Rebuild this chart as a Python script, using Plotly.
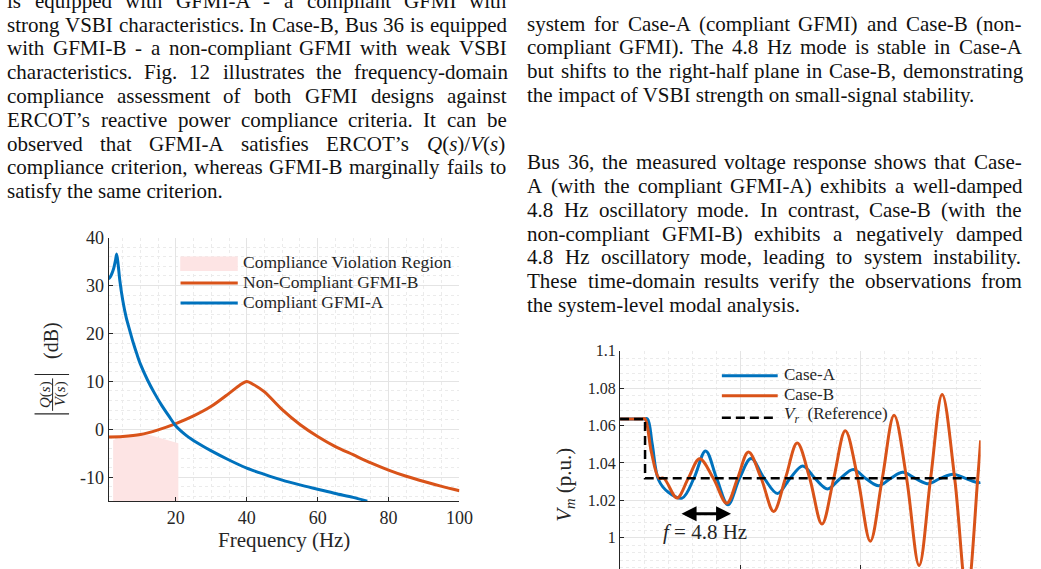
import re
import plotly.graph_objects as go

W, H = 1041, 569

# ---------------- left chart data (frequency domain) ----------------
freq_a = [1, 1.5, 2, 2.5, 3, 3.3, 3.7, 4.2, 5, 6, 7, 8, 9, 10, 12, 14, 16, 18, 20,
          23, 26, 30, 35, 40, 45, 50, 55, 60, 65, 70, 74]
mag_a = [31.4, 31.8, 32.6, 33.7, 35.4, 36.6, 34.5, 31.0, 27.0, 23.3, 20.6, 18.0, 15.7,
         13.6, 10.3, 7.5, 5.0, 2.8, 0.7, -1.3, -2.8, -4.5, -6.4, -8.1, -9.4, -10.6,
         -11.6, -12.5, -13.4, -14.2, -15.0]
freq_b = [1, 5, 10, 15, 20, 25, 30, 35, 38, 40, 42, 45, 50, 55, 60, 65, 70, 75, 80,
          85, 90, 95, 100]
mag_b = [-1.6, -1.5, -1.1, -0.1, 1.2, 2.8, 4.8, 7.5, 9.2, 10.0, 9.3, 7.8, 4.1, 1.0,
         -1.5, -3.6, -5.3, -7.0, -8.5, -9.8, -10.9, -11.9, -12.8]
viol_f = [2.3, 2.3, 7.4, 12.6, 20.7, 20.7]
viol_db = [-15, -2.25, -1.0, -1.2, -2.9, -15]
freq_ticks = [20, 40, 60, 80, 100]
db_ticks = [-10, 0, 10, 20, 30, 40]
db_tick_text = ['-10', '0', '10', '20', '30', '40']

# ---------------- right chart data (time domain) ----------------
t_a = [0, 0.1, 0.114, 0.134, 0.16, 0.201, 0.258, 0.307, 0.356, 0.402, 0.449, 0.497,
       0.545, 0.600, 0.655, 0.707, 0.760, 0.811, 0.863, 0.916, 0.970, 1.022, 1.075,
       1.125, 1.176, 1.228, 1.280, 1.332, 1.385, 1.437, 1.49, 1.5]
v_a = [1.0635, 1.0635, 1.0635, 1.050, 1.031, 1.0243, 1.0212, 1.0317, 1.0464, 1.0317,
       1.0176, 1.0317, 1.0423, 1.0317, 1.0237, 1.0317, 1.0384, 1.0317, 1.0261, 1.0317,
       1.0365, 1.0317, 1.0278, 1.0317, 1.0350, 1.0317, 1.0289, 1.0317, 1.0340, 1.0317,
       1.0294, 1.0296]
t_b = [0, 0.09, 0.104, 0.13, 0.162, 0.182, 0.237, 0.284, 0.331, 0.388, 0.444, 0.489,
       0.534, 0.587, 0.639, 0.688, 0.737, 0.789, 0.840, 0.889, 0.937, 0.989, 1.041,
       1.091, 1.140, 1.192, 1.244, 1.292, 1.340, 1.392, 1.443, 1.488, 1.5]
v_b = [1.0635, 1.0635, 1.0635, 1.046, 1.0318, 1.0318, 1.0213, 1.0318, 1.0422, 1.0318,
       1.0184, 1.0318, 1.0458, 1.0318, 1.0141, 1.0318, 1.0506, 1.0318, 1.0073, 1.0318,
       1.0572, 1.0318, 0.9982, 1.0318, 1.0654, 1.0318, 0.9852, 1.0318, 1.0765, 1.0318,
       0.969, 1.0318, 1.052]
t_ref = [0, 0.104, 0.104, 1.5]
v_ref = [1.0635, 1.0635, 1.0318, 1.0318]
vm_ticks = [1.0, 1.02, 1.04, 1.06, 1.08, 1.1]
vm_tick_text = ['1', '1.02', '1.04', '1.06', '1.08', '1.1']

# ---------------- page text ----------------
left_lines = [
    "is equipped with GFMI-A - a compliant GFMI with",
    "strong VSBI characteristics. In Case-B, Bus 36 is equipped",
    "with GFMI-B - a non-compliant GFMI with weak VSBI",
    "characteristics. Fig. 12 illustrates the frequency-domain",
    "compliance assessment of both GFMI designs against",
    "ERCOT’s reactive power compliance criteria. It can be",
    "observed that GFMI-A satisfies ERCOT’s <i>Q</i>(<i>s</i>)/<i>V</i>(<i>s</i>)",
    "compliance criterion, whereas GFMI-B marginally fails to",
    "satisfy the same criterion.",
]
right_lines = [
    "system for Case-A (compliant GFMI) and Case-B (non-",
    "compliant GFMI). The 4.8 Hz mode is stable in Case-A",
    "but shifts to the right-half plane in Case-B, demonstrating",
    "the impact of VSBI strength on small-signal stability.",
    "Bus 36, the measured voltage response shows that Case-",
    "A (with the compliant GFMI-A) exhibits a well-damped",
    "4.8 Hz oscillatory mode. In contrast, Case-B (with the",
    "non-compliant GFMI-B) exhibits a negatively damped",
    "4.8 Hz oscillatory mode, leading to system instability.",
    "These time-domain results verify the observations from",
    "the system-level modal analysis.",
]
left_base = [-2.2 + 24.2 * i for i in range(9)]
left_just = [True] * 8 + [False]
right_base = [21.0 + 24.2 * i for i in range(4)] + [162.0 + 24.2 * i for i in range(7)]
right_just = [True, True, True, False, True, True, True, True, True, True, False]

# ---------------- helpers ----------------
BLUE = '#0072BD'
ORANGE = '#D95319'
PINK = '#fde4e4'
AX = '#262626'
FONT = 'Liberation Serif'

TW = {' ': 250, '!': 333, '(': 333, ')': 333, ',': 250, '-': 333, '.': 250, '/': 278,
      ':': 278, ';': 278, '=': 564, '’': 333, "'": 333}
for c in '0123456789':
    TW[c] = 500
TW.update(dict(zip('ABCDEFGHIJKLMNOPQRSTUVWXYZ',
                   [722, 667, 667, 722, 611, 556, 722, 722, 333, 389, 722, 611, 889,
                    722, 722, 556, 722, 667, 556, 611, 722, 722, 944, 722, 722, 611])))
TW.update(dict(zip('abcdefghijklmnopqrstuvwxyz',
                   [444, 500, 444, 500, 444, 333, 500, 500, 278, 278, 500, 278, 778,
                    500, 500, 500, 500, 333, 389, 278, 500, 500, 722, 500, 500, 444])))


def twidth(s, fs):
    s = re.sub(r'<[^>]+>', '', s)
    return sum(TW.get(ch, 500) for ch in s) * fs / 1000.0


def px(x):
    return x / W


def py(y):
    return 1 - y / H


annotations = []
shapes = []
TFS = 21


def add_text(text, x, y, fs, xanchor='left', color='#111111', angle=0):
    annotations.append(dict(text=text, x=px(x), y=py(y), xref='paper', yref='paper',
                            xanchor=xanchor, yanchor='middle', showarrow=False,
                            borderpad=0, textangle=angle,
                            font=dict(family=FONT, size=fs, color=color)))


def add_line(line, x0, x1, base, justify):
    yc = base - 0.3375 * TFS
    words = line.split(' ')
    if not justify:
        add_text(line, x0, yc, TFS)
        return
    widths = [twidth(w, TFS) for w in words]
    gap = (x1 - x0 - sum(widths)) / (len(words) - 1)
    x = x0
    for w, wd in zip(words, widths):
        add_text(w, x, yc, TFS)
        x += wd + gap


for line, b, j in zip(left_lines, left_base, left_just):
    add_line(line, 6.5, 512, b, j)
for line, b, j in zip(right_lines, right_base, right_just):
    add_line(line, 533.5, 1034, b, j)

# ---------------- traces ----------------
fig = go.Figure()
fig.add_trace(go.Scatter(x=viol_f, y=viol_db, fill='toself', fillcolor=PINK, mode='lines',
                         line=dict(width=0, color=PINK), xaxis='x', yaxis='y',
                         hoverinfo='skip', showlegend=False))
fig.add_trace(go.Scatter(x=freq_b, y=mag_b, mode='lines', xaxis='x', yaxis='y',
                         line=dict(color=ORANGE, width=3, shape='spline', smoothing=0.8),
                         showlegend=False))
fig.add_trace(go.Scatter(x=freq_a, y=mag_a, mode='lines', xaxis='x', yaxis='y',
                         line=dict(color=BLUE, width=3, shape='spline', smoothing=0.8),
                         showlegend=False))
fig.add_trace(go.Scatter(x=t_a, y=v_a, mode='lines', xaxis='x2', yaxis='y2',
                         line=dict(color=BLUE, width=3, shape='spline', smoothing=1),
                         showlegend=False))
fig.add_trace(go.Scatter(x=t_b, y=v_b, mode='lines', xaxis='x2', yaxis='y2',
                         line=dict(color=ORANGE, width=3, shape='spline', smoothing=1),
                         showlegend=False))
fig.add_trace(go.Scatter(x=t_ref, y=v_ref, mode='lines', xaxis='x2', yaxis='y2',
                         line=dict(color='black', width=2.5, dash='9px,5px'),
                         showlegend=False))

grid = '#e4e4e4'
mgrid = '#ebebeb'
tick_common = dict(ticks='inside', ticklen=4, tickcolor=AX, tickwidth=1,
                   showgrid=True, gridcolor=grid, gridwidth=1, zeroline=False)

fig.update_layout(
    width=W, height=H, margin=dict(l=0, r=0, t=0, b=0),
    paper_bgcolor='white', plot_bgcolor='white',
    font=dict(family=FONT, color=AX),
    showlegend=False,
    xaxis=dict(domain=[px(110), px(465.7)], range=[1, 100], anchor='y',
               tickvals=freq_ticks, showline=True, linecolor=AX, linewidth=1,
               tickfont=dict(family=FONT, size=18, color=AX), ticklabelstandoff=0,
               minor=dict(dtick=5, tick0=0, showgrid=True, gridcolor=mgrid,
                          griddash='dot', gridwidth=1),
               **tick_common),
    yaxis=dict(domain=[py(500), py(231.7)], range=[-15, 40], anchor='x',
               tickvals=db_ticks, ticktext=db_tick_text, showline=True,
               linecolor=AX, linewidth=1,
               tickfont=dict(family=FONT, size=18, color=AX), ticklabelstandoff=0,
               minor=dict(dtick=2, tick0=0, showgrid=True, gridcolor=mgrid,
                          griddash='dot', gridwidth=1),
               **tick_common),
    xaxis2=dict(domain=[px(628.5), px(994)], range=[0, 1.5], anchor='y2',
                dtick=0.5, tick0=0, showline=False, showticklabels=False,
                minor=dict(dtick=0.1, tick0=0, showgrid=True, gridcolor=mgrid,
                           griddash='dot', gridwidth=1),
                **tick_common),
    yaxis2=dict(domain=[0, py(346.7)], range=[0.98331, 1.1], anchor='x2',
                tickvals=vm_ticks, ticktext=vm_tick_text, showline=True,
                linecolor=AX, linewidth=1,
                tickfont=dict(family=FONT, size=16, color=AX), ticklabelstandoff=0,
                minor=dict(dtick=0.004, tick0=0, showgrid=True, gridcolor=mgrid,
                           griddash='dot', gridwidth=1),
                **tick_common),
)

# ---------------- axis titles ----------------
add_text('Frequency (Hz)', 288, 539, 21, xanchor='center', color=AX)
add_text('(dB)', 52, 336.5, 20, xanchor='center', color=AX, angle=-90)
add_text('<i>Q</i>(<i>s</i>)', 45.5, 391, 15, xanchor='center', color=AX, angle=-90)
add_text('<i>V</i>(<i>s</i>)', 61, 391, 15, xanchor='center', color=AX, angle=-90)
shapes.append(dict(type='line', xref='paper', yref='paper', x0=px(53.3), x1=px(53.3),
                   y0=py(375), y1=py(408), line=dict(color=AX, width=1)))
for yb in (371, 411):
    shapes.append(dict(type='line', xref='paper', yref='paper', x0=px(35), x1=px(70),
                       y0=py(yb), y1=py(yb), line=dict(color=AX, width=1.2)))
add_text('<i>V</i><sub><i>m</i></sub> (p.u.)', 572, 483, 21, xanchor='center',
         color=AX, angle=-90)

# ---------------- legends (drawn manually) ----------------
shapes.append(dict(type='rect', xref='paper', yref='paper', x0=px(182.7), x1=px(241),
                   y0=py(265.7), y1=py(251), fillcolor=PINK, line=dict(width=0)))
shapes.append(dict(type='line', xref='paper', yref='paper', x0=px(183), x1=px(241),
                   y0=py(278), y1=py(278), line=dict(color=ORANGE, width=3)))
shapes.append(dict(type='line', xref='paper', yref='paper', x0=px(183), x1=px(241),
                   y0=py(298.3), y1=py(298.3), line=dict(color=BLUE, width=3)))
add_text('Compliance Violation Region', 245.7, 256.8, 17.5, color=AX)
add_text('Non-Compliant GFMI-B', 245.7, 276.8, 17.5, color=AX)
add_text('Compliant GFMI-A', 245.7, 297.4, 17.5, color=AX)

shapes.append(dict(type='line', xref='paper', yref='paper', x0=px(731.7), x1=px(788.3),
                   y0=py(372.3), y1=py(372.3), line=dict(color=BLUE, width=3)))
shapes.append(dict(type='line', xref='paper', yref='paper', x0=px(731.7), x1=px(788.3),
                   y0=py(392.7), y1=py(392.7), line=dict(color=ORANGE, width=3)))
shapes.append(dict(type='line', xref='paper', yref='paper', x0=px(731.7), x1=px(788.3),
                   y0=py(415), y1=py(415), line=dict(color='black', width=2.5, dash='9px,5px')))
add_text('Case-A', 793.3, 371, 17, color=AX)
add_text('Case-B', 793.3, 391, 17, color=AX)
add_text('<i>V</i><sub><i>r</i></sub>  (Reference)', 793.3, 412.6, 17, color=AX)

# ---------------- period annotation ----------------
annotations.append(dict(x=px(741), y=py(512.7), xref='paper', yref='paper', text='',
                        showarrow=True, ax=-51, ay=0, arrowside='end+start',
                        arrowhead=2, arrowsize=1, arrowwidth=3, arrowcolor='black'))
add_text('<i>f</i> = 4.8 Hz', 715, 531.7, 21, xanchor='center', color=AX)

fig.update_layout(annotations=annotations, shapes=shapes)
fig.write_html("out.html", config={'displayModeBar': False})
